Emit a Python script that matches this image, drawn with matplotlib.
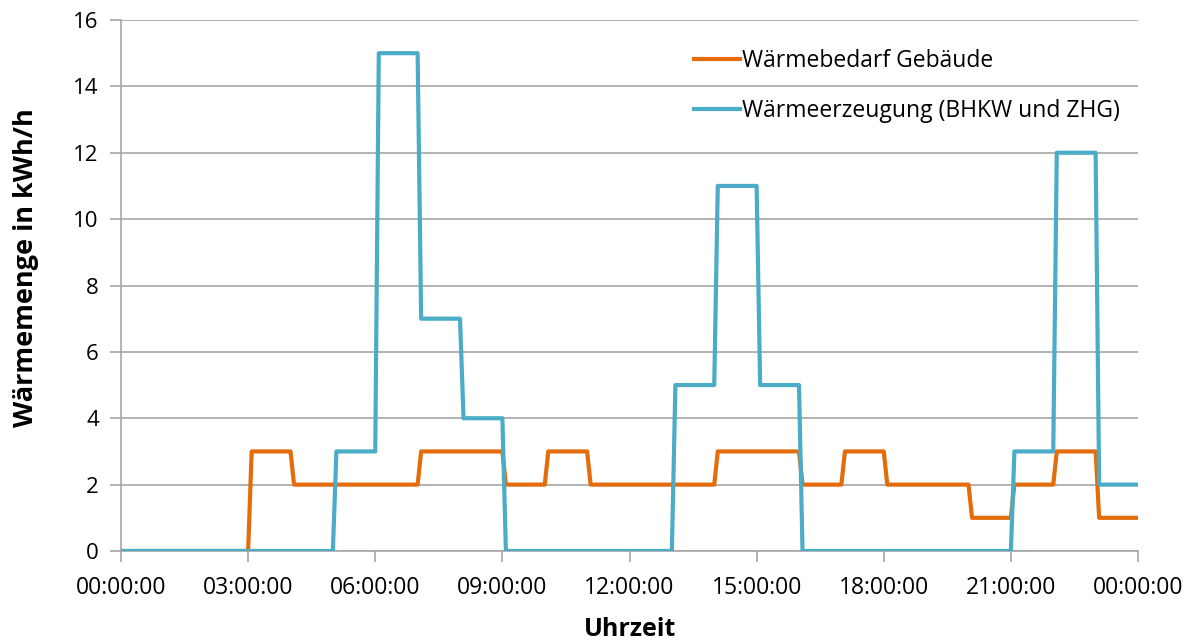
import matplotlib
matplotlib.use("Agg")
import matplotlib.pyplot as plt
import numpy as np

plt.rcParams['font.family'] = ['Open Sans', 'DejaVu Sans']

# hourly values, one per hour 00-01 ... 23-24
hours = list(range(24))
waermebedarf = [0, 0, 0, 3, 2, 2, 2, 3, 3, 2, 3, 2, 2, 2, 3, 3, 2, 3, 2, 2, 1, 2, 3, 1]
waermeerzeugung = [0, 0, 0, 0, 0, 3, 15, 7, 4, 0, 0, 0, 0, 5, 11, 5, 0, 0, 0, 0, 0, 3, 12, 2]
tick_labels = ["00:00:00", "03:00:00", "06:00:00", "09:00:00", "12:00:00",
               "15:00:00", "18:00:00", "21:00:00", "00:00:00"]

RAMP = 5 / 60  # each hour starts with a short 5 min ramp


def hourly_to_line(values):
    xs = [0.0]
    ys = [values[0]]
    for h, v in zip(hours, values):
        xs += [h + RAMP, h + 1]
        ys += [v, v]
    return xs, ys


fig = plt.figure(figsize=(12.02, 6.42), dpi=100)
ax = fig.add_axes([121 / 1202, 91 / 642, (1138 - 121) / 1202, (551 - 20) / 642])

x_b, y_b = hourly_to_line(waermebedarf)
x_e, y_e = hourly_to_line(waermeerzeugung)
ax.plot(x_b, y_b, color="#E46C0A", linewidth=3, label="Wärmebedarf Gebäude",
        solid_joinstyle="round", zorder=3)
ax.plot(x_e, y_e, color="#4BACC6", linewidth=3, label="Wärmeerzeugung (BHKW und ZHG)",
        solid_joinstyle="round", zorder=3)

ax.set_xlim(0, 24)
ax.set_ylim(0, 16)
ax.set_xticks(np.arange(0, 25, 3))
ax.set_xticklabels(tick_labels)
ax.set_yticks(np.arange(0, 17, 2))

ax.yaxis.grid(True, color="#A6A6A6", linewidth=1.2)
ax.set_axisbelow(True)
for side in ["top", "right"]:
    ax.spines[side].set_visible(False)
for side in ["left", "bottom"]:
    ax.spines[side].set_color("#A6A6A6")
    ax.spines[side].set_linewidth(1.2)
ax.tick_params(axis="both", colors="#A6A6A6", length=8, width=1.2, labelcolor="black")
ax.tick_params(axis="x", labelsize=16.5, pad=10)
ax.tick_params(axis="y", labelsize=16, pad=8)

ax.set_ylabel("Wärmemenge in kWh/h", fontsize=19.5, fontweight="bold")
ax.yaxis.set_label_coords(-0.081, 0.533)
ax.set_xlabel("Uhrzeit", fontsize=18, fontweight="bold", labelpad=12)

ax.legend(loc="upper left", bbox_to_anchor=(0.543, 0.985), frameon=False, fontsize=16.5,
          handlelength=2.0, handletextpad=0.1, labelspacing=1.15)

fig.savefig("out.png", dpi=100)
